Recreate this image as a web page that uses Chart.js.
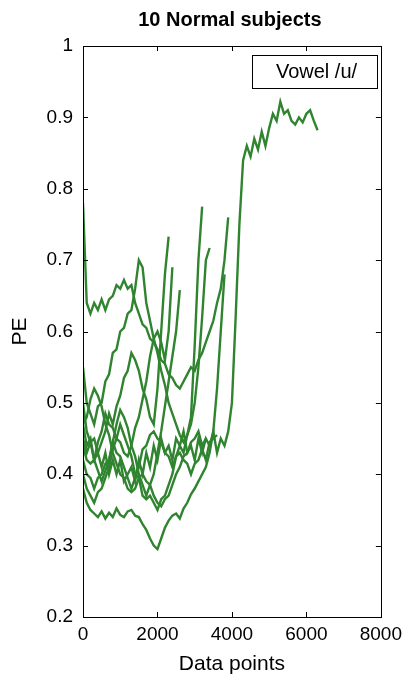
<!DOCTYPE html>
<html>
<head>
<meta charset="utf-8">
<script src="https://cdn.jsdelivr.net/npm/chart.js@4/dist/chart.umd.min.js"></script>
<style>
  html, body { margin: 0; padding: 0; background: #ffffff; }
  #wrap { width: 408px; height: 681px; position: relative; }
</style>
</head>
<body>
<div id="wrap"><canvas id="c" width="408" height="681"></canvas></div>
<script>
// ---- text ----
const chartTitle = '10 Normal subjects';
const xAxisTitle = 'Data points';
const yAxisTitle = 'PE';
const legendText = 'Vowel /u/';
const xTickLabels = ['0', '2000', '4000', '6000', '8000'];
const yTickLabels = ['0.2', '0.3', '0.4', '0.5', '0.6', '0.7', '0.8', '0.9', '1'];

// ---- data: sample spacing in data points ----
const xStep = 100;

// subject series (PE values every xStep data points, starting at 0)
const subject1 = [0.47,0.44,0.45,0.42,0.43,0.41,0.43,0.40,0.42,0.40,
  0.42,0.39,0.40,0.41,0.39,0.42,0.40,0.43,0.41,0.44,
  0.42,0.45,0.43,0.44,0.42,0.45,0.44,0.46,0.43,0.44,
  0.42,0.45,0.43,0.45,0.44,0.46,0.43,0.45,0.44,0.46,
  0.50,0.62,0.75,0.84,0.86,0.845,0.87,0.855,0.88,0.86,
  0.885,0.905,0.895,0.922,0.905,0.91,0.895,0.89,0.90,0.893,
  0.905,0.91,0.895,0.882];
const subject2 = [0.78,0.64,0.625,0.64,0.63,0.645,0.63,0.645,0.65,0.665,
  0.66,0.672,0.66,0.665,0.64,0.625,0.61,0.605,0.59,0.585,
  0.575,0.56,0.555,0.54,0.535,0.525,0.52,0.53,0.54,0.55,
  0.545,0.56,0.57,0.585,0.60,0.615,0.64,0.66,0.70,0.76];
const subject3 = [0.55,0.50,0.485,0.47,0.495,0.50,0.53,0.54,0.57,0.575,
  0.60,0.605,0.625,0.63,0.66,0.70,0.69,0.64,0.615,0.59,
  0.57,0.545,0.525,0.50,0.485,0.47,0.455,0.445,0.455,0.48,
  0.58,0.70,0.775];
const subject4 = [0.50,0.46,0.445,0.45,0.43,0.445,0.46,0.485,0.47,0.495,
  0.51,0.535,0.545,0.57,0.56,0.545,0.52,0.505,0.48,0.47,
  0.52,0.60,0.68,0.733];
const subject5 = [0.44,0.42,0.415,0.42,0.445,0.46,0.485,0.47,0.465,0.45,
  0.445,0.43,0.425,0.44,0.465,0.48,0.505,0.53,0.565,0.59,
  0.60,0.585,0.56,0.60,0.69];
const subject6 = [0.45,0.43,0.445,0.42,0.405,0.39,0.405,0.42,0.445,0.47,
  0.49,0.48,0.465,0.44,0.425,0.40,0.385,0.37,0.385,0.40,
  0.43,0.46,0.495,0.53,0.565,0.60,0.658];
const subject7 = [0.40,0.38,0.37,0.36,0.375,0.38,0.395,0.41,0.435,0.45,
  0.47,0.455,0.44,0.425,0.40,0.395,0.37,0.365,0.37,0.36,
  0.35,0.365,0.37,0.385,0.40,0.425,0.44,0.43,0.455,0.47,
  0.50,0.55,0.62,0.70,0.717];
const subject8 = [0.42,0.40,0.395,0.38,0.395,0.40,0.415,0.42,0.445,0.43,
  0.425,0.41,0.395,0.38,0.395,0.41,0.435,0.44,0.455,0.46,
  0.45,0.445,0.43,0.425,0.41,0.425,0.43,0.42,0.415,0.40,
  0.415,0.42,0.435,0.42,0.445,0.45,0.455];
const subject9 = [0.38,0.36,0.35,0.345,0.34,0.348,0.338,0.346,0.34,0.352,
  0.343,0.34,0.348,0.35,0.342,0.34,0.33,0.322,0.31,0.30,
  0.295,0.31,0.325,0.335,0.342,0.345,0.338,0.352,0.36,0.372,
  0.38,0.39,0.40,0.41,0.43,0.46,0.52,0.60,0.68];
const subject10 = [0.47,0.48,0.505,0.52,0.51,0.495,0.47,0.455,0.43,0.415,
  0.40,0.395,0.38,0.375,0.38,0.395,0.40,0.39,0.385,0.37,
  0.36,0.355,0.365,0.37,0.385,0.40,0.41,0.425,0.43,0.445,
  0.45,0.46,0.44,0.45];

const subjects = [subject1, subject2, subject3, subject4, subject5,
                  subject6, subject7, subject8, subject9, subject10];

const lineColor = 'rgb(48,132,48)';

const datasets = subjects.map((vals, k) => ({
  label: 'Subject ' + (k + 1),
  data: vals.map((v, i) => ({ x: i * xStep, y: v })),
  borderColor: lineColor,
  borderWidth: 2.4,
  pointRadius: 0,
  tension: 0,
  fill: false
}));

const frameFont = "'Liberation Sans', Arial, sans-serif";

const framePlugin = {
  id: 'frame',
  afterDatasetsDraw(chart) {
    const { ctx, chartArea: a, scales } = chart;
    ctx.save();
    ctx.strokeStyle = '#000';
    ctx.lineWidth = 1;
    ctx.strokeRect(Math.round(a.left) + 0.5, Math.round(a.top) + 0.5,
                   Math.round(a.right - a.left), Math.round(a.bottom - a.top));
    const tl = 5;
    ctx.beginPath();
    scales.x.ticks.forEach(t => {
      if (t.value <= scales.x.min || t.value >= scales.x.max) return;
      const px = Math.round(scales.x.getPixelForValue(t.value)) + 0.5;
      ctx.moveTo(px, a.bottom); ctx.lineTo(px, a.bottom - tl);
      ctx.moveTo(px, a.top); ctx.lineTo(px, a.top + tl);
    });
    scales.y.ticks.forEach(t => {
      if (t.value <= scales.y.min + 1e-9 || t.value >= scales.y.max - 1e-9) return;
      const py = Math.round(scales.y.getPixelForValue(t.value)) + 0.5;
      ctx.moveTo(a.left, py); ctx.lineTo(a.left + tl, py);
      ctx.moveTo(a.right, py); ctx.lineTo(a.right - tl, py);
    });
    ctx.stroke();

    const lx = 252, ly = 55, lw = 125, lh = 33;
    ctx.fillStyle = '#fff';
    ctx.fillRect(lx, ly, lw, lh);
    ctx.strokeRect(lx + 0.5, ly + 0.5, lw, lh);
    ctx.fillStyle = '#000';
    ctx.font = '20px ' + frameFont;
    ctx.textAlign = 'center';
    ctx.textBaseline = 'middle';
    ctx.fillText(legendText, lx + lw / 2 + 2, ly + lh / 2 + 1);

    ctx.font = 'bold 20px ' + frameFont;
    ctx.fillText(chartTitle, (a.left + a.right) / 2 - 2, 20);
    ctx.restore();
  }
};

new Chart(document.getElementById('c'), {
  type: 'line',
  data: { datasets },
  options: {
    responsive: false,
    animation: false,
    events: [],
    layout: { padding: { top: 46, right: 23, left: 0, bottom: 0 } },
    plugins: { legend: { display: false }, title: { display: false }, tooltip: { enabled: false } },
    scales: {
      x: {
        type: 'linear', min: 0, max: 8000,
        afterFit(s) { s.height = 64; },
        ticks: {
          stepSize: 2000, color: '#000', padding: 6,
          font: { family: frameFont, size: 19 },
          maxRotation: 0,
          callback: (v, i) => xTickLabels[i]
        },
        grid: { display: false, drawTicks: false },
        border: { display: false },
        title: { display: true, text: xAxisTitle, color: '#000',
                 font: { family: frameFont, size: 21 }, padding: { top: 0, bottom: 4 } }
      },
      y: {
        type: 'linear', min: 0.2, max: 1,
        afterFit(s) { s.width = 83; },
        ticks: {
          stepSize: 0.1, color: '#000', padding: 10,
          font: { family: frameFont, size: 19 },
          callback: (v, i) => yTickLabels[i]
        },
        grid: { display: false, drawTicks: false },
        border: { display: false },
        title: { display: true, text: yAxisTitle, color: '#000',
                 font: { family: frameFont, size: 21 }, padding: { top: 8, bottom: 0 } }
      }
    }
  },
  plugins: [framePlugin]
});
</script>
</body>
</html>
